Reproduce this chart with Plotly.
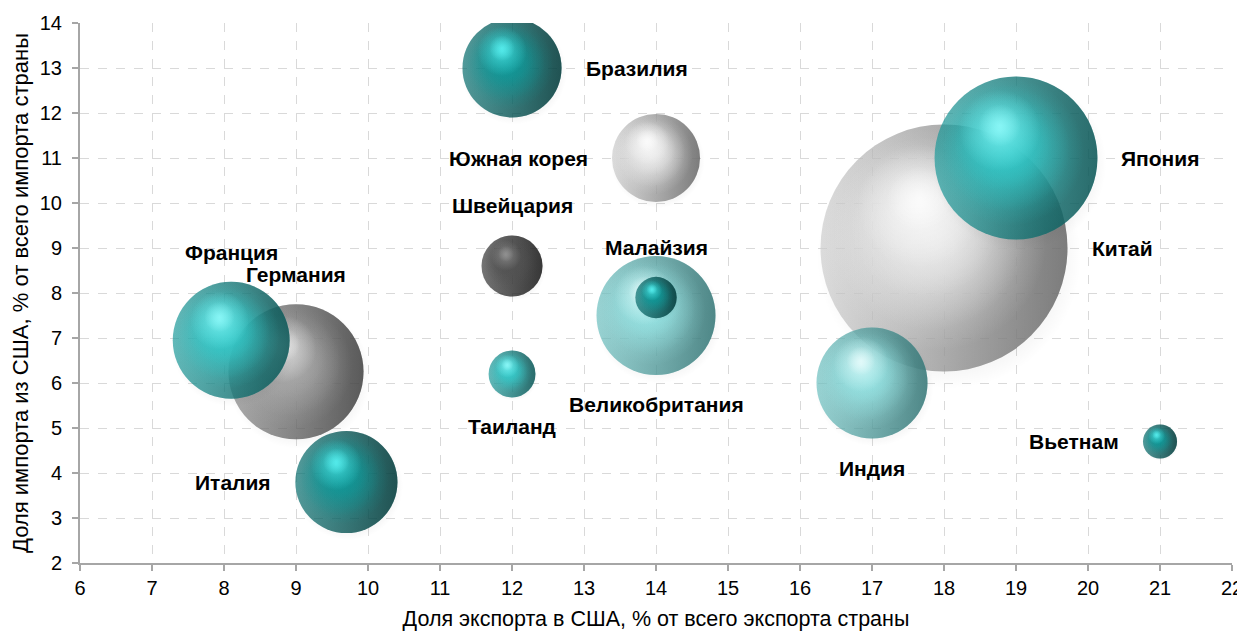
import math
import plotly.graph_objects as go

# ---------------- data ----------------
countries = ["Бразилия", "Южная корея", "Швейцария", "Франция", "Германия", "Италия",
             "Таиланд", "Малайзия", "Великобритания", "Китай", "Япония", "Индия", "Вьетнам"]
export_share = [12, 14, 12, 8.1, 9, 9.7, 12, 14, 14, 18, 19, 17, 21]
import_share = [13, 11, 8.6, 6.95, 6.25, 3.8, 6.2, 7.9, 7.5, 9, 11, 6, 4.7]
trade_volume = [16.1, 12.7, 6.1, 22.4, 29.9, 17.1, 3.6, 2.8, 23.2, 100, 43.5, 20.2, 1.9]
color_group = ["teal", "silver", "dark", "turq", "gray", "teal",
               "turq", "teal", "cyan", "silver", "turq", "cyan", "teal"]
label_side = ["right", "left", "top", "top", "top", "left",
              "bottom", "top", "bottom", "right", "right", "bottom", "left"]

x_ticks = list(range(6, 23))
y_ticks = list(range(2, 15))

# ---------------- style ----------------
W, H = 1245, 631
ML, MR, MT, MB = 72, 21, 15, 76
X_RANGE = [6, 22]
Y_RANGE = [2, 14]
PX_X = (W - ML - MR) / (X_RANGE[1] - X_RANGE[0])
PX_Y = (H - MT - MB) / (Y_RANGE[1] - Y_RANGE[0])
D_MAX = 247
VMAX = max(trade_volume)
SIZEREF = 2 * VMAX / D_MAX ** 2
FONT = "Arial, Liberation Sans, sans-serif"
LABEL_GAP = 22

palette = {
    # mid, rim, dark, highlight
    "teal":   ((14, 152, 152), (8, 110, 110), (0, 35, 35), (95, 250, 250)),
    "turq":   ((52, 202, 202), (30, 155, 155), (4, 55, 55), (150, 255, 255)),
    "cyan":   ((150, 228, 228), (108, 192, 192), (30, 85, 85), (240, 255, 255)),
    "silver": ((236, 236, 236), (205, 205, 205), (60, 60, 60), (255, 255, 255)),
    "gray":   ((170, 170, 170), (138, 138, 138), (35, 35, 35), (250, 250, 250)),
    "dark":   ((82, 82, 82), (58, 58, 58), (15, 15, 15), (155, 155, 155)),
}


def rgba(c, a=1.0):
    return f"rgba({c[0]},{c[1]},{c[2]},{a})"


fig = go.Figure()


def add_layer(x, y, vol, scale, fx, fy, start, end, gtype="radial"):
    """start: colour at centre (radial) / right (horizontal); end: colour at edge / left."""
    d = D_MAX * math.sqrt(vol / VMAX)
    fig.add_trace(go.Scatter(
        x=[x + fx * d / PX_X], y=[y - fy * d / PX_Y],
        mode="markers", hoverinfo="skip", showlegend=False, cliponaxis=True,
        marker=dict(size=[vol * scale ** 2], sizemode="area", sizeref=SIZEREF,
                    color=end, line=dict(width=0),
                    gradient=dict(type=gtype, color=start)),
    ))


order = sorted(range(len(countries)), key=lambda i: -trade_volume[i])
for i in order:
    x, y, v = export_share[i], import_share[i], trade_volume[i]
    mid, rim, dark, hl = palette[color_group[i]]
    # soft shadow
    add_layer(x, y, v, 1.07, 0.02, 0.035, rgba((0, 0, 0), 0.35), rgba((0, 0, 0), 0.0))
    # base sphere
    add_layer(x, y, v, 1.0, 0, 0, rgba(mid), rgba(rim))
    # right-side shade
    add_layer(x, y, v, 1.0, 0, 0, rgba(dark, 0.85), rgba(dark, 0.0), "horizontal")
    # lit body (stacked for a softer fall-off)
    add_layer(x, y, v, 0.9, -0.035, -0.035, rgba(mid, 1.0), rgba(mid, 0.0))
    add_layer(x, y, v, 0.78, -0.06, -0.06, rgba(mid, 1.0), rgba(mid, 0.0))
    add_layer(x, y, v, 0.6, -0.08, -0.1, rgba(mid, 1.0), rgba(mid, 0.0))
    # highlight
    add_layer(x, y, v, 0.5, -0.1, -0.17, rgba(hl, 0.9), rgba(hl, 0.0))
    add_layer(x, y, v, 0.26, -0.1, -0.2, rgba(hl, 0.9), rgba(hl, 0.0))

annotations = []
for i, name in enumerate(countries):
    d = D_MAX * math.sqrt(trade_volume[i] / VMAX)
    r = d / 2
    side = label_side[i]
    a = dict(x=export_share[i], y=import_share[i], xref="x", yref="y",
             text=f"<b>{name}</b>", showarrow=False,
             font=dict(family=FONT, size=21, color="#000000"))
    if side == "right":
        a.update(xanchor="left", yanchor="middle", xshift=r + LABEL_GAP)
    elif side == "left":
        a.update(xanchor="right", yanchor="middle", xshift=-(r + LABEL_GAP))
    elif side == "top":
        a.update(xanchor="center", yanchor="bottom", yshift=r + LABEL_GAP - 6)
    else:
        a.update(xanchor="center", yanchor="top", yshift=-(r + LABEL_GAP - 6))
    annotations.append(a)

axis_common = dict(
    showgrid=True, gridcolor="#d9d9d9", griddash="dash", gridwidth=1,
    showline=True, linecolor="#a6a6a6", linewidth=2,
    ticks="outside", ticklen=6, tickcolor="#a6a6a6", tickwidth=2,
    zeroline=False, automargin=False,
    tickfont=dict(family=FONT, size=20, color="#000000"),
)

fig.update_layout(
    width=W, height=H,
    margin=dict(l=ML, r=MR, t=MT, b=MB, autoexpand=False),
    paper_bgcolor="white", plot_bgcolor="white",
    showlegend=False, hovermode=False,
    annotations=annotations,
    xaxis=dict(range=X_RANGE, tickvals=x_ticks, **axis_common,
               title=dict(text="Доля экспорта в США, % от всего экспорта страны",
                          font=dict(family=FONT, size=21.5, color="#000000"), standoff=13)),
    yaxis=dict(range=Y_RANGE, tickvals=y_ticks, **axis_common, ticklabelstandoff=6,
               title=dict(text="Доля импорта из США, % от всего импорта страны",
                          font=dict(family=FONT, size=22, color="#000000"), standoff=10)),
)

fig.write_html("out.html")
